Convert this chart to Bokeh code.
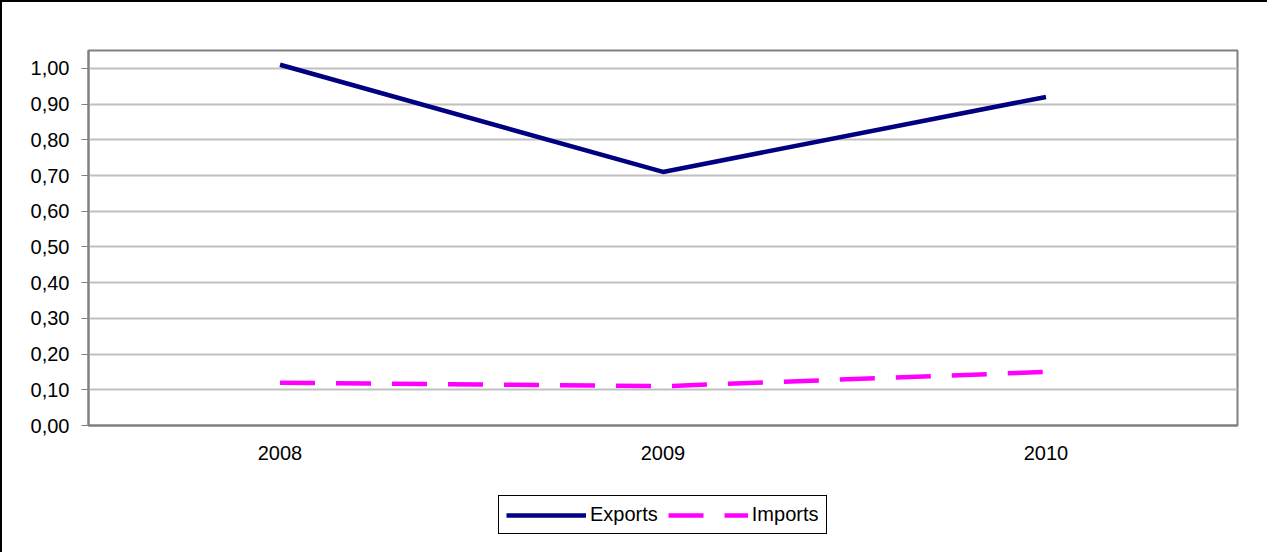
from bokeh.plotting import figure
from bokeh.layouts import column
from bokeh.models import FixedTicker, Legend, LegendItem, Range1d
from bokeh.embed import file_html
from bokeh.resources import INLINE

years = ["2008", "2009", "2010"]
exports = [1.01, 0.71, 0.92]
imports = [0.12, 0.11, 0.15]
y_ticks = [0.0, 0.1, 0.2, 0.3, 0.4, 0.5, 0.6, 0.7, 0.8, 0.9, 1.0]
y_labels = ["0,00", "0,10", "0,20", "0,30", "0,40", "0,50", "0,60", "0,70", "0,80", "0,90", "1,00"]

FONT = "Liberation Sans"
EXP_STYLE = dict(line_color="#000080", line_width=4.5)
IMP_STYLE = dict(line_color="#FF00FF", line_width=4.5, line_dash="35 21")

p = figure(x_range=years, y_range=Range1d(0, 1.05), frame_width=1149, frame_height=375,
           output_backend="svg", toolbar_location=None,
           min_border_left=86, min_border_right=30, min_border_top=48, min_border_bottom=62)

p.line(years, exports, **EXP_STYLE)
p.line(years, imports, **IMP_STYLE)

p.outline_line_color = "#808080"
p.outline_line_width = 2
p.background_fill_color = "white"
p.border_fill_color = "white"

p.xgrid.grid_line_color = None
p.ygrid.grid_line_color = "#C0C0C0"
p.ygrid.grid_line_width = 2

p.yaxis.ticker = FixedTicker(ticks=y_ticks)
p.yaxis.major_label_overrides = {t: l for t, l in zip(y_ticks, y_labels)}
p.yaxis.axis_line_color = "#808080"
p.yaxis.axis_line_width = 2
p.yaxis.major_tick_line_color = "#808080"
p.yaxis.major_tick_line_width = 1
p.yaxis.major_tick_out = 7
p.yaxis.major_tick_in = 0
p.yaxis.minor_tick_line_color = None
p.yaxis.minor_tick_out = 0
p.yaxis.major_label_standoff = 12

p.xaxis.axis_line_color = "#808080"
p.xaxis.axis_line_width = 2
p.xaxis.major_tick_line_color = None
p.xaxis.major_tick_out = 0
p.xaxis.major_tick_in = 0
p.xaxis.minor_tick_line_color = None
p.xaxis.minor_tick_out = 0
p.xaxis.major_label_standoff = 20

for ax in (p.xaxis, p.yaxis):
    ax.major_label_text_font = FONT
    ax.major_label_text_font_size = "20px"
    ax.major_label_text_color = "black"

# legend figure (its lines lie outside its range, only the legend shows)
p2 = figure(x_range=years, y_range=Range1d(5, 6), frame_width=340, frame_height=40,
            x_axis_type=None, y_axis_type=None, output_backend="svg", toolbar_location=None,
            min_border=0, margin=(8, 0, 20, 496))
p2.outline_line_color = None
p2.background_fill_color = "white"
p2.border_fill_color = "white"
l1 = p2.line(years, exports, **EXP_STYLE)
l2 = p2.line(years, imports, **IMP_STYLE)

legend = Legend(items=[LegendItem(label="Exports", renderers=[l1]),
                       LegendItem(label="Imports", renderers=[l2])],
                orientation="horizontal", location="top_left",
                glyph_width=80, glyph_height=22, label_height=22, label_standoff=4, spacing=10,
                padding=7, margin=0,
                label_text_font=FONT, label_text_font_size="20px", label_text_color="black",
                border_line_color="black", border_line_width=1, border_line_alpha=1,
                background_fill_color="white", background_fill_alpha=1)
p2.add_layout(legend, "center")

layout = column(p, p2, spacing=0,
                styles={"border-top": "2px solid black", "border-left": "2px solid black",
                        "background-color": "white"})

html = file_html(layout, INLINE)
html = html.replace("<head>", "<head><style>html,body{overflow:hidden;}</style>", 1)
open("out.html", "w").write(html)
